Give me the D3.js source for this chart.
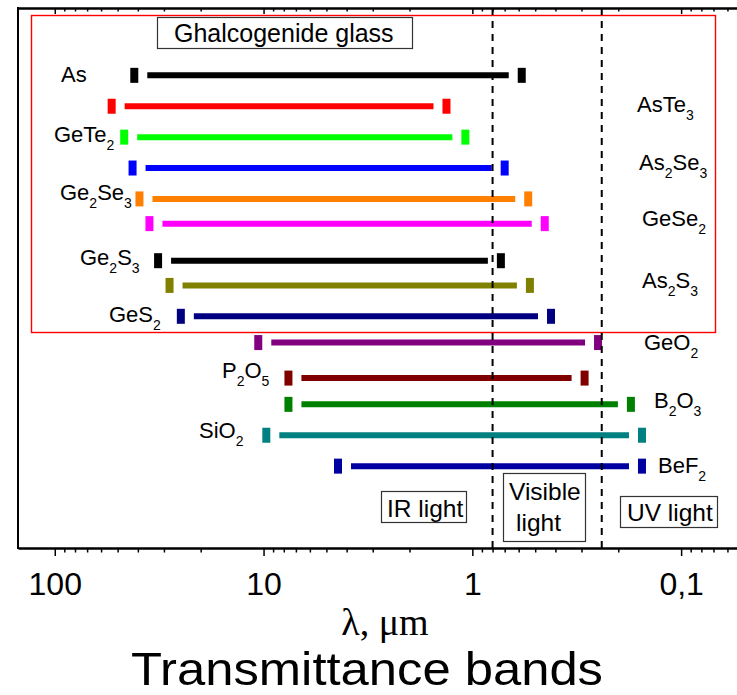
<!DOCTYPE html>
<html>
<head>
<meta charset="utf-8">
<script src="https://cdn.jsdelivr.net/npm/d3@7"></script>
<style>
  html, body { margin: 0; padding: 0; background: #fff; }
  svg { display: block; }
  text { font-family: "Liberation Sans", Arial, sans-serif; fill: #000; }
</style>
</head>
<body>
<svg id="chart" width="737" height="695"></svg>
<script>
// Transmission windows of glasses, wavelength in micrometres
const materials  = ["As", "AsTe3", "GeTe2", "As2Se3", "Ge2Se3", "GeSe2", "Ge2S3",
                    "As2S3", "GeS2", "GeO2", "P2O5", "B2O3", "SiO2", "BeF2"];
const longEdge   = [41.6, 53.4, 46.5, 42.4, 39.3, 35.2, 32.0, 28.2, 24.9, 10.6, 7.6, 7.6, 9.7, 4.4];
const shortEdge  = [0.58, 1.33, 1.08, 0.70, 0.54, 0.45, 0.73, 0.53, 0.42, 0.25, 0.29, 0.174, 0.154, 0.154];
const rowLevel   = [15.3, 14.3, 13.3, 12.3, 11.3, 10.5, 9.3, 8.5, 7.5, 6.65, 5.5, 4.65, 3.65, 2.65];
const barColors  = ["#000000", "#ff0000", "#00ff00", "#0000ff", "#ff8000", "#ff00ff", "#000000",
                    "#808000", "#000080", "#800080", "#800000", "#008000", "#008080", "#0000a0"];
const visibleEdges = [0.8, 0.24];
const majorTicks = [100, 10, 1, 0.1];
const majorTickLabels = ["100", "10", "1", "0,1"];

// Label placement (start x, baseline y) in pixels
const labelAt = [[61, 82], [637, 112], [54, 142], [639, 170], [60, 200], [642, 226], [80, 265],
                 [642, 288], [109, 322], [644, 350], [222, 378], [654, 408], [199, 438], [658, 473]];

const svg = d3.select("#chart");
const plot = { left: 18, right: 737, top: 8, bottom: 548 };

const x = d3.scaleLog().domain([150, 0.054]).range([plot.left, plot.right]);
const y = d3.scaleLinear().domain([0, 17.48]).range([plot.bottom, plot.top]);

// Minor ticks: 2..9 of every decade inside the domain
const minorTicks = [];
[100, 10, 1, 0.1, 0.01].forEach(d => {
  for (let k = 2; k <= 9; k++) {
    const v = d * k / 10;
    if (v < 150 && v > 0.054 && !majorTicks.includes(v)) minorTicks.push(v);
  }
});

// Red frame around the chalcogenide group
svg.append("rect")
  .attr("x", 31.5).attr("y", 15.5).attr("width", 684).attr("height", 317)
  .attr("fill", "none").attr("stroke", "#ff0000").attr("stroke-width", 1.4);

// Bars: end blocks plus a thick line between them
const capW = 8, capH = 15, gap = 13, lineW = 6;
const rows = svg.append("g").selectAll("g").data(materials).join("g");
rows.append("line")
  .attr("x1", (d, i) => x(longEdge[i]) + gap)
  .attr("x2", (d, i) => x(shortEdge[i]) - gap)
  .attr("y1", (d, i) => y(rowLevel[i]))
  .attr("y2", (d, i) => y(rowLevel[i]))
  .attr("stroke", (d, i) => barColors[i])
  .attr("stroke-width", lineW);
rows.append("rect")
  .attr("x", (d, i) => x(longEdge[i]) - capW / 2)
  .attr("y", (d, i) => y(rowLevel[i]) - capH / 2)
  .attr("width", capW).attr("height", capH)
  .attr("fill", (d, i) => barColors[i]);
rows.append("rect")
  .attr("x", (d, i) => x(shortEdge[i]) - capW / 2)
  .attr("y", (d, i) => y(rowLevel[i]) - capH / 2)
  .attr("width", capW).attr("height", capH)
  .attr("fill", (d, i) => barColors[i]);

// Formula labels with subscript digits
const labels = svg.append("g").selectAll("text").data(materials).join("text")
  .attr("x", (d, i) => labelAt[i][0])
  .attr("y", (d, i) => labelAt[i][1])
  .style("font-size", "22px");
labels.each(function (name) {
  const t = d3.select(this);
  const parts = name.match(/[A-Za-z]+|\d+/g);
  let sub = false;
  parts.forEach(p => {
    const isDigit = /\d/.test(p);
    const ts = t.append("tspan").text(p);
    if (isDigit && !sub) { ts.attr("dy", 8).style("font-size", "14px"); sub = true; }
    else if (!isDigit && sub) { ts.attr("dy", -8); sub = false; }
    else if (isDigit) ts.style("font-size", "14px");
  });
});

// Boxed annotations
function boxedText(bx, by, bw, bh, lines, size) {
  const g = svg.append("g");
  g.append("rect").attr("x", bx + 0.5).attr("y", by + 0.5).attr("width", bw).attr("height", bh)
    .attr("fill", "#fff").attr("stroke", "#333").attr("stroke-width", 1.2);
  lines.forEach(l => {
    g.append("text").attr("x", l[1]).attr("y", l[2]).style("font-size", size + "px").text(l[0]);
  });
}
boxedText(157, 17, 255, 31, [["Ghalcogenide glass", 174, 42]], 25);
boxedText(381, 491, 85, 31, [["IR light", 387, 517]], 24.5);
boxedText(503, 473, 82, 68, [["Visible", 509, 500], ["light", 516, 531]], 24.5);
boxedText(620, 496, 97, 31, [["UV light", 627, 521]], 24.5);

// Visible band limits
svg.append("g").selectAll("line").data(visibleEdges).join("line")
  .attr("x1", d => x(d)).attr("x2", d => x(d))
  .attr("y1", plot.top).attr("y2", plot.bottom)
  .attr("stroke", "#000").attr("stroke-width", 2)
  .attr("stroke-dasharray", "7,6");

// Axes
function styleAxis(g) {
  g.selectAll("path.domain").attr("stroke", "#000").attr("stroke-width", 2);
  g.selectAll(".tick line").attr("stroke", "#000").attr("stroke-width", 1.5);
}
const bottomMajor = svg.append("g").attr("transform", `translate(0,${plot.bottom})`)
  .call(d3.axisBottom(x).tickValues(majorTicks)
    .tickFormat((d, i) => majorTickLabels[i]).tickSize(8).tickSizeOuter(0).tickPadding(16));
bottomMajor.selectAll("text").style("font-size", "32px")
  .style("font-family", "'Liberation Sans', Arial, sans-serif").attr("fill", "#000");
styleAxis(bottomMajor);
const bottomMinor = svg.append("g").attr("transform", `translate(0,${plot.bottom})`)
  .call(d3.axisBottom(x).tickValues(minorTicks).tickFormat("").tickSize(4.5).tickSizeOuter(0));
styleAxis(bottomMinor);

const topMajor = svg.append("g").attr("transform", `translate(0,${plot.top})`)
  .call(d3.axisBottom(x).tickValues(majorTicks).tickFormat("").tickSize(6).tickSizeOuter(0));
styleAxis(topMajor);
const topMinor = svg.append("g").attr("transform", `translate(0,${plot.top})`)
  .call(d3.axisBottom(x).tickValues(minorTicks).tickFormat("").tickSize(3.5).tickSizeOuter(0));
styleAxis(topMinor);

svg.append("line").attr("x1", plot.left).attr("x2", plot.left)
  .attr("y1", plot.top - 1).attr("y2", plot.bottom + 1)
  .attr("stroke", "#000").attr("stroke-width", 2);

// Axis title and caption
svg.append("text").attr("x", 385).attr("y", 635).attr("text-anchor", "middle")
  .style("font-family", "'Liberation Serif', 'Times New Roman', serif").style("font-size", "38px")
  .text("λ, μm");
svg.append("text").attr("x", 367).attr("y", 685).attr("text-anchor", "middle")
  .attr("textLength", 472).attr("lengthAdjust", "spacingAndGlyphs")
  .style("font-size", "46px").text("Transmittance bands");
</script>
</body>
</html>
